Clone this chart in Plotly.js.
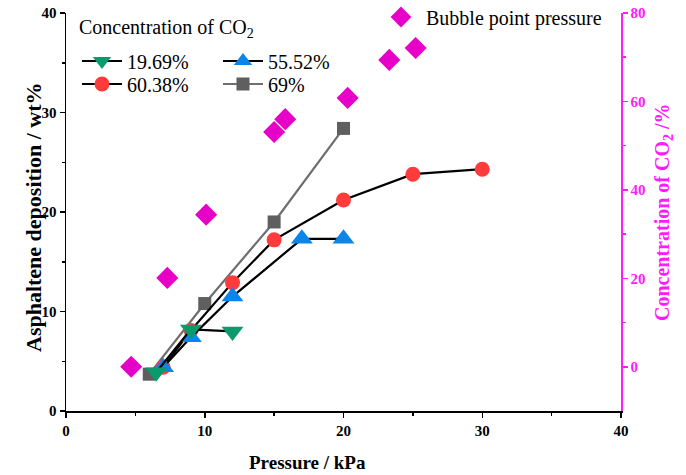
<!DOCTYPE html>
<html>
<head>
<meta charset="utf-8">
<script src="https://cdn.plot.ly/plotly-3.0.1.min.js"></script>
<style>html,body{margin:0;padding:0;background:#fff;}#chart{width:686px;height:475px;}</style>
</head>
<body>
<div id="chart"></div>
<script>
// Data
const p1969 = [6.5, 9, 12];
const d1969 = [3.9, 8.2, 8.0];
const p5552 = [7, 9, 12, 17, 20];
const d5552 = [4.4, 7.4, 11.5, 17.3, 17.3];
const p6038 = [7, 9, 12, 15, 20, 25, 30];
const d6038 = [4.4, 8.1, 12.9, 17.2, 21.2, 23.8, 24.3];
const p69 = [6, 10, 15, 20];
const d69 = [3.7, 10.8, 19.0, 28.4];
const bubbleP = [4.7, 7.3, 10.1, 15.0, 15.8, 20.3, 23.3, 25.2];
const bubbleCO2 = [0, 20.1, 34.4, 53.1, 56.0, 60.8, 69.4, 72.1];
const names = ['19.69%', '55.52%', '60.38%', '69%', 'Bubble point pressure'];
const legendTitle = 'Concentration of CO<sub>2</sub>';
const xTitle = '<b>Pressure / kPa</b>';
const yTitle = '<b>Asphaltene deposition / wt%</b>';
const y2Title = '<b>Concentration of CO<sub>2</sub> /%</b>';

const serif = 'Liberation Serif, Times New Roman, serif';
const magenta = '#ff1aff';
const diamond = '#e600c8';

const traces = [
  {x: bubbleP, y: bubbleCO2, name: names[4], mode: 'markers', yaxis: 'y2', legend: 'legend5',
   marker: {symbol: 'diamond', size: 17, color: diamond}},
  {x: p69, y: d69, name: names[3], mode: 'lines+markers', legend: 'legend4',
   line: {color: '#6e6e6e', width: 2.2},
   marker: {symbol: 'square', size: 13, color: '#5f5f5f'}},
  {x: p6038, y: d6038, name: names[2], mode: 'lines+markers', legend: 'legend3',
   line: {color: '#000', width: 2.2},
   marker: {symbol: 'circle', size: 15, color: '#ff3b3b'}},
  {x: p5552, y: d5552, name: names[1], mode: 'lines+markers', legend: 'legend2',
   line: {color: '#000', width: 2.2},
   marker: {symbol: 'triangle-up', size: 19, color: '#0a86ea'}},
  {x: p1969, y: d1969, name: names[0], mode: 'lines+markers', legend: 'legend',
   line: {color: '#000', width: 2.2},
   marker: {symbol: 'triangle-down', size: 19, color: '#0a9a6c'}}
];

function leg(xpx, ypx) {
  return {
    bgcolor: 'rgba(0,0,0,0)', borderwidth: 0,
    font: {family: serif, size: 20, color: '#000'},
    xanchor: 'left', yanchor: 'middle', itemwidth: 40,
    x: (xpx - 66) / 555, y: (411 - ypx) / 398
  };
}

const layout = {
  width: 686, height: 475,
  margin: {l: 66, r: 65, t: 13, b: 64, autoexpand: false},
  paper_bgcolor: '#fff', plot_bgcolor: '#fff',
  font: {family: serif, color: '#000'},
  xaxis: {
    range: [0, 40], dtick: 10, tick0: 0, automargin: false,
    showgrid: false, zeroline: false,
    showline: true, linecolor: '#000', linewidth: 1.5,
    ticks: 'outside', ticklen: 5, tickwidth: 1.5, tickcolor: '#000',
    minor: {dtick: 5, ticks: 'outside', ticklen: 3, tickwidth: 1.5, tickcolor: '#000'},
    tickfont: {family: serif, size: 15, color: '#000', weight: 'bold'}
  },
  yaxis: {
    range: [0, 40], dtick: 10, tick0: 0, automargin: false,
    showgrid: false, zeroline: false,
    showline: true, linecolor: '#000', linewidth: 1.5,
    ticks: 'outside', ticklen: 5, tickwidth: 1.5, tickcolor: '#000',
    minor: {dtick: 5, ticks: 'outside', ticklen: 3, tickwidth: 1.5, tickcolor: '#000'},
    tickfont: {family: serif, size: 15, color: '#000', weight: 'bold'}
  },
  yaxis2: {
    overlaying: 'y', side: 'right', anchor: 'x', automargin: false,
    range: [-10, 80], tickvals: [0, 20, 40, 60, 80],
    showgrid: false, zeroline: false,
    showline: true, linecolor: magenta, linewidth: 1.5,
    ticks: 'outside', ticklen: 5, tickwidth: 1.5, tickcolor: magenta,
    minor: {tickvals: [10, 30, 50, 70], ticks: 'outside', ticklen: 3, tickwidth: 1.5, tickcolor: magenta},
    tickfont: {family: serif, size: 15, color: magenta, weight: 'bold'}
  },
  legend: leg(77, 61),
  legend2: leg(218, 61),
  legend3: leg(77, 84),
  legend4: leg(218, 84),
  legend5: leg(376, 17),
  showlegend: true,
  annotations: [
    {text: legendTitle, xref: 'paper', yref: 'paper', x: (77 - 66) / 555, y: (411 - 28) / 398,
     xanchor: 'left', yanchor: 'middle', showarrow: false, font: {family: serif, size: 20, color: '#000'}},
    {text: xTitle, xref: 'paper', yref: 'paper', x: (307 - 66) / 555, y: (411 - 462) / 398,
     xanchor: 'center', yanchor: 'middle', showarrow: false, font: {family: serif, size: 19, color: '#000'}},
    {text: yTitle, xref: 'paper', yref: 'paper', x: (33 - 66) / 555, y: (411 - 217) / 398,
     xanchor: 'center', yanchor: 'middle', textangle: -90, showarrow: false, font: {family: serif, size: 22, color: '#000'}},
    {text: y2Title, xref: 'paper', yref: 'paper', x: (663 - 66) / 555, y: (411 - 212) / 398,
     xanchor: 'center', yanchor: 'middle', textangle: -90, showarrow: false, font: {family: serif, size: 20, color: magenta}}
  ]
};

Plotly.newPlot('chart', traces, layout, {displayModeBar: false, staticPlot: true});
</script>
</body>
</html>
